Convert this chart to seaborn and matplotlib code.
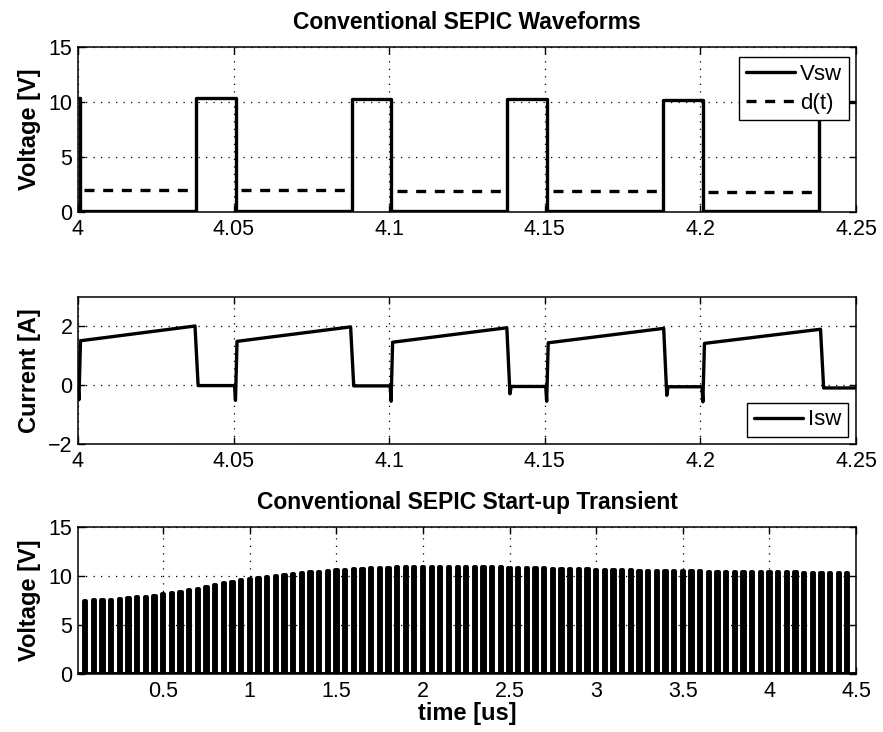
import numpy as np
import pandas as pd
import matplotlib
matplotlib.use("Agg")
import matplotlib.pyplot as plt
import seaborn as sns

# ---------------- data ----------------
# Top panel: switch-node voltage Vsw and duty signal d(t)
vsw_off_t = [4.0007, 4.0507, 4.1007, 4.1507, 4.2007]   # falling edges
vsw_on_t = [4.0380, 4.0880, 4.1380, 4.1880, 4.2380]    # rising edges
vsw_high = [10.35, 10.32, 10.30, 10.25, 10.22, 10.00]  # plateau before each falling edge (+ last)
vsw_low = 0.08

d_start = [4.0020, 4.0525, 4.1025, 4.1525, 4.2025]
d_end = [4.0360, 4.0860, 4.1360, 4.1860, 4.2360]
d_level = [2.04, 1.99, 1.94, 1.88, 1.83]

# Middle panel: switch current Isw
isw_on_t = [4.00, 4.0503, 4.1003, 4.1503, 4.2005]
isw_spike = [-0.50, -0.52, -0.55, -0.55, -0.57]
isw_start = [1.50, 1.48, 1.45, 1.43, 1.41]
isw_fall_t = [4.0376, 4.0876, 4.1378, 4.1882, 4.2386]
isw_peak = [2.00, 1.97, 1.94, 1.92, 1.89]
isw_dip = [-0.02, -0.03, -0.30, -0.35, -0.10]
isw_off = [-0.02, -0.03, -0.05, -0.06, -0.10]

# Bottom panel: start-up transient, pulse peak voltages (one every 0.05 us)
pulse_peaks = [
    7.50, 7.52, 7.55, 7.60, 7.66, 7.73, 7.81, 7.90, 8.00, 8.12,
    8.25, 8.40, 8.55, 8.72, 8.90, 9.08, 9.25, 9.42, 9.57, 9.70,
    9.82, 9.93, 10.03, 10.13, 10.22, 10.30, 10.38, 10.45, 10.52, 10.58,
    10.64, 10.69, 10.74, 10.78, 10.82, 10.85, 10.88, 10.90, 10.92, 10.93,
    10.94, 10.94, 10.94, 10.93, 10.92, 10.91, 10.90, 10.89, 10.87, 10.86,
    10.84, 10.82, 10.80, 10.78, 10.76, 10.74, 10.72, 10.70, 10.68, 10.66,
    10.64, 10.62, 10.60, 10.58, 10.56, 10.54, 10.52, 10.51, 10.49, 10.48,
    10.47, 10.46, 10.45, 10.44, 10.43, 10.42, 10.41, 10.40, 10.39, 10.38,
    10.37, 10.36, 10.36, 10.35, 10.34, 10.34, 10.33, 10.33, 10.32,
]
pulse_period = 0.05
pulse_halfwidth = 0.0066

top_xticks = [4.0, 4.05, 4.1, 4.15, 4.2, 4.25]
top_xlabels = ["4", "4.05", "4.1", "4.15", "4.2", "4.25"]
bot_xticks = [0.5, 1, 1.5, 2, 2.5, 3, 3.5, 4, 4.5]
bot_xlabels = ["0.5", "1", "1.5", "2", "2.5", "3", "3.5", "4", "4.5"]

# ---------------- build tables ----------------
vt, vy = [4.0], [vsw_high[0]]
vt += [vsw_off_t[0], vsw_off_t[0]]
vy += [vsw_high[0], vsw_low]
for k in range(5):
    vt += [vsw_on_t[k], vsw_on_t[k]]
    vy += [vsw_low, vsw_high[k + 1]]
    if k + 1 < 5:
        vt += [vsw_off_t[k + 1], vsw_off_t[k + 1]]
        vy += [vsw_high[k + 1], vsw_low]
vt.append(4.25)
vy.append(vsw_high[5])
df_vsw = pd.DataFrame({"t": vt, "v": vy})

dt, dv, du = [], [], []
for k in range(5):
    dt += [d_start[k], d_end[k]]
    dv += [d_level[k], d_level[k]]
    du += [k, k]
df_d = pd.DataFrame({"t": dt, "v": dv, "seg": du})

it, iy = [], []
prev_off = isw_off[0]
for k in range(5):
    ts = isw_on_t[k]
    it += [ts, ts + 0.0003, ts + 0.0008]
    iy += [prev_off, isw_spike[k], isw_start[k]]
    ft = isw_fall_t[k]
    it += [ft, ft + 0.0010, ft + 0.0014]
    iy += [isw_peak[k], isw_dip[k], isw_off[k]]
    prev_off = isw_off[k]
it.append(4.25)
iy.append(isw_off[-1])
df_isw = pd.DataFrame({"t": it, "i": iy})

centers = np.arange(1, len(pulse_peaks) + 1) * pulse_period
bt, by = [0.0], [0.0]
for c, p in zip(centers, pulse_peaks):
    bt += [c - pulse_halfwidth, c - pulse_halfwidth, c + pulse_halfwidth, c + pulse_halfwidth]
    by += [0.0, p, p, 0.0]
bt.append(4.5)
by.append(0.0)
df_bot = pd.DataFrame({"t": bt, "v": by})

# ---------------- style ----------------
sns.set_theme(style="ticks")
plt.rcParams["font.family"] = ["Liberation Sans", "DejaVu Sans"]
plt.rcParams["text.color"] = "black"
plt.rcParams["axes.labelcolor"] = "black"
plt.rcParams["axes.titlecolor"] = "black"
plt.rcParams["axes.edgecolor"] = "black"
plt.rcParams["axes.linewidth"] = 1.1
plt.rcParams["xtick.color"] = "black"
plt.rcParams["ytick.color"] = "black"
plt.rcParams["xtick.labelcolor"] = "black"
plt.rcParams["ytick.labelcolor"] = "black"
plt.rcParams["legend.labelcolor"] = "black"

TICK_FS = 15.5
LAB_FS = 17
TITLE_FS = 16.5
LEG_FS = 16
LW = 2.4

fig = plt.figure(figsize=(8.83, 7.32), dpi=100)
fig.patch.set_facecolor("white")

L, W = 78 / 883, 778 / 883
ax1 = fig.add_axes([L, 1 - 212 / 732, W, 165 / 732])
ax2 = fig.add_axes([L, 1 - 444 / 732, W, 147.5 / 732])
ax3 = fig.add_axes([L, 1 - 674 / 732, W, 147 / 732])


def style_axes(ax):
    ax.set_facecolor("white")
    ax.grid(True, color="black", linestyle=(0, (1, 5)), linewidth=0.9)
    ax.set_axisbelow(True)
    ax.tick_params(direction="in", length=5, width=1, top=True, right=True,
                   labelsize=TICK_FS, pad=5, colors="black")
    ax.tick_params(axis="y", pad=4)
    for s in ax.spines.values():
        s.set_visible(True)
        s.set_color("black")
        s.set_linewidth(1.1)


# Top panel
sns.lineplot(data=df_vsw, x="t", y="v", ax=ax1, color="black", lw=LW,
             estimator=None, sort=False, label="Vsw", legend=False)
sns.lineplot(data=df_d, x="t", y="v", units="seg", ax=ax1, color="black", lw=LW,
             estimator=None, sort=False, legend=False)
lines = ax1.get_lines()
for ln in lines[1:]:
    ln.set_linestyle((0, (3, 2.6)))
ax1.set_xlim(4.0, 4.25)
ax1.set_ylim(0, 15)
ax1.set_xticks(top_xticks)
ax1.set_xticklabels(top_xlabels)
ax1.set_yticks([0, 5, 10, 15])
ax1.set_xlabel("")
ax1.set_ylabel("Voltage [V]", fontsize=LAB_FS, fontweight="bold", color="black")
ax1.set_title("Conventional SEPIC Waveforms", fontsize=TITLE_FS, fontweight="bold",
              pad=13, color="black")
style_axes(ax1)
leg1 = ax1.legend([lines[0], lines[1]], ["Vsw", "d(t)"], loc="upper right",
                  bbox_to_anchor=(0.991, 0.939), borderaxespad=0, fontsize=LEG_FS,
                  frameon=True, fancybox=False, edgecolor="black", framealpha=1,
                  handlelength=2.2, handletextpad=0.25, labelspacing=0.35,
                  borderpad=0.3)
leg1.get_frame().set_linewidth(1.0)

# Middle panel
sns.lineplot(data=df_isw, x="t", y="i", ax=ax2, color="black", lw=LW,
             estimator=None, sort=False, legend=False)
ax2.set_xlim(4.0, 4.25)
ax2.set_ylim(-2, 3)
ax2.set_xticks(top_xticks)
ax2.set_xticklabels(top_xlabels)
ax2.set_yticks([-2, 0, 2])
ax2.set_yticklabels(["\u22122", "0", "2"])
ax2.set_xlabel("")
ax2.set_ylabel("Current [A]", fontsize=LAB_FS, fontweight="bold", color="black")
style_axes(ax2)
leg2 = ax2.legend([ax2.get_lines()[0]], ["Isw"], loc="lower right",
                  bbox_to_anchor=(0.99, 0.047), borderaxespad=0, fontsize=LEG_FS,
                  frameon=True, fancybox=False, edgecolor="black", framealpha=1,
                  handlelength=2.2, handletextpad=0.25, borderpad=0.3)
leg2.get_frame().set_linewidth(1.0)

# Bottom panel
sns.lineplot(data=df_bot, x="t", y="v", ax=ax3, color="black", lw=2.8,
             estimator=None, sort=False, legend=False)
ax3.set_xlim(0.008, 4.5)
ax3.set_ylim(0, 15)
ax3.set_xticks(bot_xticks)
ax3.set_xticklabels(bot_xlabels)
ax3.set_yticks([0, 5, 10, 15])
ax3.set_xlabel("time [us]", fontsize=LAB_FS, fontweight="bold", color="black")
ax3.set_ylabel("Voltage [V]", fontsize=LAB_FS, fontweight="bold", color="black")
ax3.set_title("Conventional SEPIC Start-up Transient", fontsize=TITLE_FS,
              fontweight="bold", pad=13, color="black")
style_axes(ax3)

for ax in (ax1, ax2, ax3):
    ax.yaxis.set_label_coords(-0.047, 0.5)
ax3.xaxis.set_label_coords(0.5, -0.19)

fig.savefig("out.png", dpi=100, facecolor="white")
